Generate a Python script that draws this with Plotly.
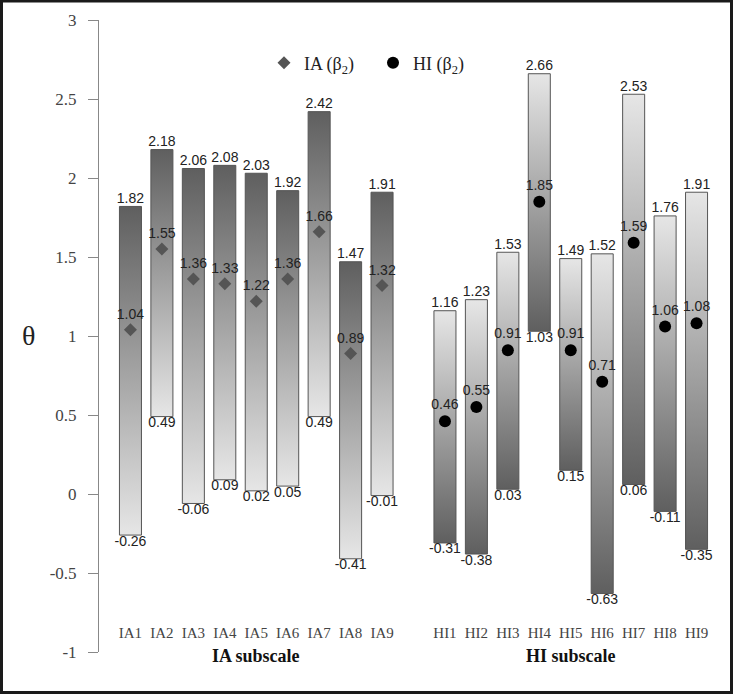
import plotly.graph_objects as go

ia_items = ["IA1", "IA2", "IA3", "IA4", "IA5", "IA6", "IA7", "IA8", "IA9"]
ia_upper = [1.82, 2.18, 2.06, 2.08, 2.03, 1.92, 2.42, 1.47, 1.91]
ia_lower = [-0.26, 0.49, -0.06, 0.09, 0.02, 0.05, 0.49, -0.41, -0.01]
ia_beta2 = [1.04, 1.55, 1.36, 1.33, 1.22, 1.36, 1.66, 0.89, 1.32]

hi_items = ["HI1", "HI2", "HI3", "HI4", "HI5", "HI6", "HI7", "HI8", "HI9"]
hi_upper = [1.16, 1.23, 1.53, 2.66, 1.49, 1.52, 2.53, 1.76, 1.91]
hi_lower = [-0.31, -0.38, 0.03, 1.03, 0.15, -0.63, 0.06, -0.11, -0.35]
hi_beta2 = [0.46, 0.55, 0.91, 1.85, 0.91, 0.71, 1.59, 1.06, 1.08]

y_tickvals = [-1, -0.5, 0, 0.5, 1, 1.5, 2, 2.5, 3]
y_ticktext = ["-1", "-0.5", "0", "0.5", "1", "1.5", "2", "2.5", "3"]

ia_pos = [i + 1 for i in range(len(ia_items))]
hi_pos = [i + 11 for i in range(len(hi_items))]

W = 733
H = 694
ML, MR, MT, MB = 99, 5, 20, 42
HALF = 0.35
DARK = "#5f5f5f"
LIGHT = "#e6e6e6"
SERIF = "Liberation Serif, Times New Roman, serif"
SANS = "Liberation Sans, Arial, sans-serif"

fig = go.Figure()


def add_bars(pos, lo, hi, bottom_col, top_col):
    for x, a, b in zip(pos, lo, hi):
        fig.add_trace(go.Scatter(
            x=[x - HALF, x + HALF, x + HALF, x - HALF, x - HALF],
            y=[a, a, b, b, a],
            mode="lines",
            fill="toself",
            fillgradient=dict(type="vertical",
                              colorscale=[[0, bottom_col], [1, top_col]]),
            line=dict(color="#555555", width=1),
            showlegend=False,
            hoverinfo="skip",
        ))


add_bars(ia_pos, ia_lower, ia_upper, LIGHT, DARK)
add_bars(hi_pos, hi_lower, hi_upper, DARK, LIGHT)

all_pos = ia_pos + hi_pos
all_up = ia_upper + hi_upper
all_lo = ia_lower + hi_lower

fig.add_trace(go.Scatter(
    x=all_pos, y=all_up, mode="text",
    text=[f"{v:.2f}" for v in all_up], textposition="top center",
    textfont=dict(family=SANS, size=14, color="#222"),
    showlegend=False, hoverinfo="skip"))
fig.add_trace(go.Scatter(
    x=all_pos, y=all_lo, mode="text",
    text=[f"{v:.2f}" for v in all_lo], textposition="bottom center",
    textfont=dict(family=SANS, size=14, color="#222"),
    showlegend=False, hoverinfo="skip"))

fig.add_trace(go.Scatter(
    x=ia_pos, y=ia_beta2, mode="markers+text",
    name="IA (β<sub>2</sub>)",
    marker=dict(symbol="diamond", size=10, color="#555555"),
    text=[f"{v:.2f}" for v in ia_beta2], textposition="top center",
    textfont=dict(family=SANS, size=14, color="#222"),
    hoverinfo="skip"))
fig.add_trace(go.Scatter(
    x=hi_pos, y=hi_beta2, mode="markers+text",
    name="HI (β<sub>2</sub>)",
    marker=dict(symbol="circle", size=12, color="#000000"),
    text=[f"{v:.2f}" for v in hi_beta2], textposition="top center",
    textfont=dict(family=SANS, size=14, color="#222"),
    hoverinfo="skip"))

plot_w = W - ML - MR
plot_h = H - MT - MB

fig.update_layout(
    width=W, height=H,
    margin=dict(l=ML, r=MR, t=MT, b=MB),
    paper_bgcolor="white", plot_bgcolor="white",
    showlegend=True,
    legend=dict(orientation="h", x=(264 - ML) / plot_w, y=(H - MB - 63) / plot_h,
                xanchor="left", yanchor="middle",
                entrywidth=64, entrywidthmode="pixels",
                font=dict(family=SERIF, size=18, color="#222"),
                bgcolor="rgba(0,0,0,0)"),
    xaxis=dict(range=[0, 20], tickvals=all_pos, ticktext=ia_items + hi_items,
               showline=False, ticks="", showgrid=False, zeroline=False,
               anchor="free", position=(H - MB - 622) / plot_h,
               tickfont=dict(family=SERIF, size=15, color="#444")),
    yaxis=dict(range=[-1, 3], tickvals=y_tickvals, ticktext=y_ticktext,
               showline=True, linecolor="#888", linewidth=1,
               ticks="outside", ticklen=10, tickcolor="#888",
               ticklabelstandoff=8,
               showgrid=False, zeroline=False,
               tickfont=dict(family=SERIF, size=17, color="#444")),
)

fig.add_annotation(x=(28 - ML) / plot_w, y=(H - MB - 335) / plot_h,
                   xref="paper", yref="paper", xanchor="center", yanchor="middle",
                   text="θ", showarrow=False,
                   font=dict(family=SERIF, size=28, color="#222"))
for pos, label in [(ia_pos, "IA subscale"), (hi_pos, "HI subscale")]:
    fig.add_annotation(x=sum(pos) / len(pos), xref="x",
                       y=(H - MB - 656) / plot_h, yref="paper",
                       xanchor="center", yanchor="middle",
                       text=f"<b>{label}</b>", showarrow=False,
                       font=dict(family=SERIF, size=18, color="#111"))

fig.add_shape(type="rect", xref="paper", yref="paper",
              x0=(1.5 - ML) / plot_w, x1=(W - 1.5 - ML) / plot_w,
              y0=(H - MB - (H - 1.5)) / plot_h, y1=(H - MB - 1) / plot_h,
              line=dict(color="#1a1a1a", width=3), fillcolor="rgba(0,0,0,0)")

fig.write_html("out.html", config={"displayModeBar": False},
               post_script="document.body.style.margin='0px';")
